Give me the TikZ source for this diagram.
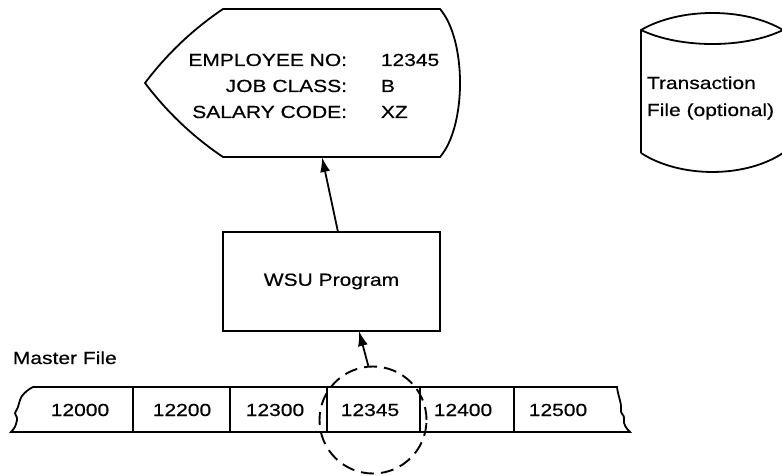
\documentclass[tikz,border=0pt]{standalone}
\usepackage{fontspec}
\setmainfont{Liberation Sans}[FakeStretch=1.2, FakeBold=0.5]
\usetikzlibrary{arrows.meta}

\begin{document}
\begin{tikzpicture}[x=1pt, y=-1pt, line width=1.8pt,
  txt/.style={inner sep=0pt, font=\fontsize{17.5}{27}\selectfont},
  flow/.style={-{Latex[length=15pt, width=10pt]}, line width=1.8pt},
  cellno/.style={txt},
  ring/.style={draw, circle, dash pattern=on 13pt off 7pt, line width=1.9pt, minimum size=107pt, inner sep=0pt}]
\useasboundingbox (0,0) rectangle (782,476);

% ---- display symbol with the record read ----
\draw (223,9) -- (440,9)
  .. controls (466.7,40) and (466.7,126) .. (440,157)
  -- (223,157)
  .. controls (192.9,136.7) and (166.9,112) .. (145,83)
  .. controls (166.9,54) and (192.9,29.3) .. (223,9) -- cycle;
\node[txt, anchor=base east] (lbEmp) at (348,66) {EMPLOYEE NO:};
\node[txt, anchor=base east] (lbJob) at (348,92) {JOB CLASS:};
\node[txt, anchor=base east] (lbSal) at (348,118) {SALARY CODE:};
\node[txt, anchor=base west] (vaEmp) at (380,66) {12345};
\node[txt, anchor=base west] (vaJob) at (380,92) {B};
\node[txt, anchor=base west] (vaSal) at (380,118) {XZ};
\coordinate (dispIn) at (322,157);

% ---- transaction file (cylinder, cut by the right edge) ----
\draw (641,153) -- (641,30)
  .. controls (680,7.3) and (745,7.3) .. (783,30);
\draw (641,30) .. controls (680,48.7) and (745,48.7) .. (783,30);
\draw (641,153) .. controls (680,178.3) and (745,178.3) .. (783,153);
\draw (783,30) -- (783,153);
\node[txt, anchor=base west, align=left] (trans) at (646,116)
  {Transaction\\File (optional)};

% ---- program box ----
\node[draw, txt, minimum width=217pt, minimum height=99pt] (wsu) at (331.5,281.5) {WSU Program};
\coordinate (wsuOut) at (338,232);
\coordinate (wsuIn) at (359,331);
\draw[flow] (wsuOut) -- (dispIn);

% ---- master file strip ----
\node[txt, anchor=base west] (master) at (12,364) {Master File};
\draw (33,387) -- (617,387)
  .. controls (618,396) and (622,404) .. (621,410)
  .. controls (620,414) and (625,415) .. (624,419)
  .. controls (623,424) and (626,428) .. (630,432)
  -- (11,432)
  .. controls (15,428) and (16,425) .. (17,420)
  .. controls (18,416) and (13,414) .. (16,411)
  .. controls (19,407) and (19,400) .. (22,396)
  .. controls (25,392) and (29,389) .. (33,387) -- cycle;
\foreach \x in {133,230,327,420,514} \draw (\x,387) -- (\x,432);
\node[cellno] (c1) at (80,410) {12000};
\node[cellno] (c2) at (182,410) {12200};
\node[cellno] (c3) at (275,410) {12300};
\node[cellno] (c4) at (370,410) {12345};
\node[cellno] (c5) at (463,410) {12400};
\node[cellno] (c6) at (558,410) {12500};

% ---- record being read ----
\node[ring] (focus) at (373,420) {};
\draw[flow] (focus.95) -- (wsuIn);
\end{tikzpicture}
\end{document}
